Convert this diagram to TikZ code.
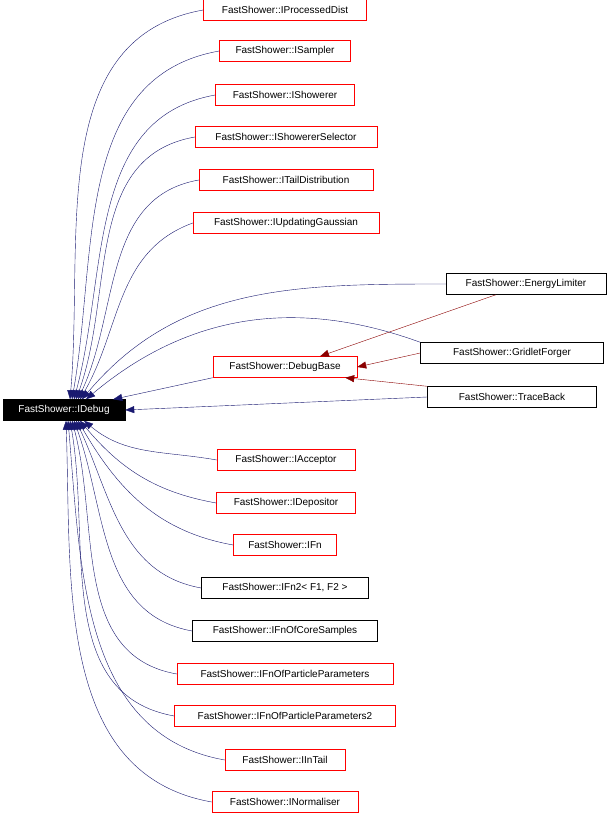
\documentclass[tikz,border=0pt]{standalone}
\usepackage{fontspec}
\setmainfont{Liberation Sans}
\usetikzlibrary{arrows.meta}
\definecolor{edgeblue}{RGB}{25,25,112}
\definecolor{edgered}{RGB}{139,0,0}
\tikzset{
  cls/.style={draw=red, fill=white, minimum height=21pt, inner xsep=6pt, font=\fontsize{10}{12}\selectfont},
  docd/.style={cls, draw=black},
  pub/.style={draw=edgeblue, -{Triangle[length=9pt,width=7pt]}},
  priv/.style={draw=edgered, -{Triangle[length=9pt,width=7pt,fill=edgered]}},
}
\begin{document}
\begin{tikzpicture}[x=1pt,y=-1pt]
\useasboundingbox (0,0) rectangle (610,813);
% base class
\node[cls, draw=black, fill=black, text=white, minimum width=122pt] (debug) at (64,410) {FastShower::IDebug};
% upper interfaces
\node[cls, minimum width=163pt] (pd) at (285,10) {FastShower::IProcessedDist};
\node[cls, minimum width=131pt] (sampler) at (285,51) {FastShower::ISampler};
\node[cls, minimum width=139pt] (showerer) at (285,95) {FastShower::IShowerer};
\node[cls, minimum width=182pt] (selector) at (286,137) {FastShower::IShowererSelector};
\node[cls, minimum width=174pt] (tail) at (286,180) {FastShower::ITailDistribution};
\node[cls, minimum width=186pt] (gauss) at (286,223) {FastShower::IUpdatingGaussian};
% debug base and derived
\node[docd, minimum width=160pt] (limiter) at (526,284) {FastShower::EnergyLimiter};
\node[docd, minimum width=183pt] (forger) at (512,353) {FastShower::GridletForger};
\node[cls, minimum width=144pt] (base) at (285,367) {FastShower::DebugBase};
\node[docd, minimum width=169pt] (trace) at (512,397) {FastShower::TraceBack};
% lower interfaces
\node[cls, minimum width=138pt] (acceptor) at (286,460) {FastShower::IAcceptor};
\node[cls, minimum width=139pt] (depositor) at (286,503) {FastShower::IDepositor};
\node[cls, minimum width=103pt] (fn) at (285,545) {FastShower::IFn};
\node[docd, minimum width=167pt] (fntwo) at (285,588) {FastShower::IFn2< F1, F2 >};
\node[docd, minimum width=185pt] (core) at (285,631) {FastShower::IFnOfCoreSamples};
\node[cls, minimum width=216pt] (ppar) at (285,674) {FastShower::IFnOfParticleParameters};
\node[cls, minimum width=221pt] (ppartwo) at (285,716) {FastShower::IFnOfParticleParameters2};
\node[cls, minimum width=120pt] (intail) at (285,760) {FastShower::IInTail};
\node[cls, minimum width=146pt] (norm) at (285,802) {FastShower::INormaliser};
% edges to IDebug
\draw[pub] (pd.west) to[out=190,in=85] ([xshift=6pt]debug.north);
\draw[pub] (sampler.west) to[out=190,in=80] ([xshift=8pt]debug.north);
\draw[pub] (showerer.west) to[out=190,in=75] ([xshift=10pt]debug.north);
\draw[pub] (selector.west) to[out=190,in=70] ([xshift=12pt]debug.north);
\draw[pub] (tail.west) to[out=190,in=65] ([xshift=14pt]debug.north);
\draw[pub] (gauss.west) to[out=200,in=60] ([xshift=16pt]debug.north);
\draw[pub] (limiter.west) to[out=180,in=50] ([xshift=18pt]debug.north);
\draw[pub] (forger.north west) to[out=160,in=40] ([xshift=22pt]debug.north);
\draw[pub] (base.south west) -- ([xshift=-12pt]debug.north east);
\draw[pub] (trace.west) -- (debug.east);
\draw[pub] (acceptor.west) to[out=170,in=-40] ([xshift=20pt]debug.south);
\draw[pub] (depositor.west) to[out=170,in=-50] ([xshift=16pt]debug.south);
\draw[pub] (fn.west) to[out=170,in=-60] ([xshift=14pt]debug.south);
\draw[pub] (fntwo.west) to[out=170,in=-65] ([xshift=12pt]debug.south);
\draw[pub] (core.west) to[out=170,in=-70] ([xshift=10pt]debug.south);
\draw[pub] (ppar.west) to[out=170,in=-75] ([xshift=8pt]debug.south);
\draw[pub] (ppartwo.west) to[out=170,in=-80] ([xshift=6pt]debug.south);
\draw[pub] (intail.west) to[out=170,in=-85] ([xshift=4pt]debug.south);
\draw[pub] (norm.west) to[out=170,in=-88] ([xshift=2pt]debug.south);
% edges to DebugBase
\draw[priv] ([xshift=-30pt]limiter.south) -- ([xshift=35pt]base.north);
\draw[priv] (forger.west) -- (base.east);
\draw[priv] (trace.north west) -- ([xshift=-12pt]base.south east);
\end{tikzpicture}
\end{document}
